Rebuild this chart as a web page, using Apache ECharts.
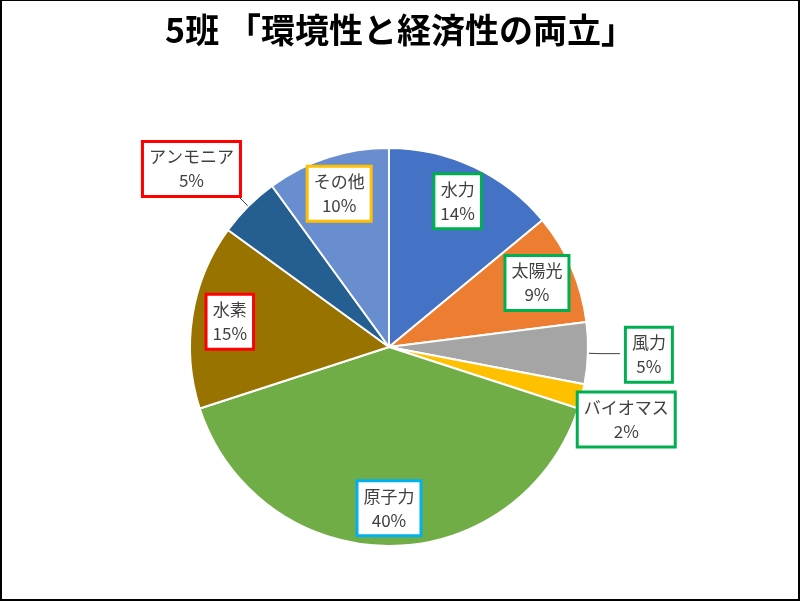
<!DOCTYPE html>
<html><head><meta charset="utf-8">
<script src="https://cdn.jsdelivr.net/npm/echarts@6/dist/echarts.min.js"></script>
<style>
html,body{margin:0;padding:0;background:#fff}
#c{width:800px;height:601px}
#f{position:absolute;left:0;top:0;width:800px;height:601px;box-sizing:border-box;border:2px solid #000;border-top-width:1px;pointer-events:none}
</style>
</head><body><div id="c"></div><div id="f"></div>
<script>
const titleText = '5班 「環境性と経済性の両立」';
const categories = ['水力','太陽光','風力','バイオマス','原子力','水素','アンモニア','その他'];
const values = [14, 9, 5, 2, 40, 15, 5, 10];
const sliceColors = ['#4472C4','#ED7D31','#A5A5A5','#FFC000','#70AD47','#997300','#255E91','#698ED0'];
const boxColors = ['#00B050','#00B050','#00B050','#00B050','#00B0F0','#FF0000','#FF0000','#FFC000'];
const outsideNames = ['風力','バイオマス','アンモニア'];

const outsideCfg = {
  '風力':     {len: 12, len2: 20, dx: 2,  dy: 1,   line: true},
  'バイオマス': {len: 0,  len2: 0,  dx: -8, dy: 23,  line: false},
  'アンモニア': {len: 16, len2: 0,  dx: 7,  dy: -26, line: true}
};

const FONT = '"Noto Sans CJK JP","Noto Sans",sans-serif';
const tokenStyle = {color: '#404040', fontFamily: FONT, fontSize: 17, lineHeight: 24, align: 'center'};
const labelBase = {
  color: '#404040', fontFamily: FONT, fontSize: 17, lineHeight: 24,
  backgroundColor: '#fff', borderWidth: 3, padding: [2, 5],
  formatter: p => '{t|' + p.name + '}\n{t|' + p.value + '%}',
  rich: {t: tokenStyle}
};
const CENTER = [389, 347];
const R = 199;

const mainData = categories.map((n, i) => {
  const out = outsideNames.includes(n);
  const cfg = outsideCfg[n];
  return {
    name: n, value: values[i],
    itemStyle: {color: sliceColors[i]},
    label: out ? Object.assign({}, labelBase, {show: true, position: 'outside', borderColor: boxColors[i], distanceToLabelLine: 5}) : {show: false},
    labelLine: out ? {show: cfg.line, length: cfg.len, length2: cfg.len2} : {show: false}
  };
});

const ringData = categories.map((n, i) => {
  const out = outsideNames.includes(n);
  return {
    name: n, value: values[i],
    itemStyle: {color: 'rgba(0,0,0,0)'},
    label: out ? {show: false} : Object.assign({}, labelBase, {show: true, position: 'inside', borderColor: boxColors[i]})
  };
});

const chart = echarts.init(document.getElementById('c'));
chart.setOption({
  animation: false,
  backgroundColor: '#fff',
  title: {
    text: titleText, left: 'center', top: 8, padding: [5, 0, 5, 12],
    textStyle: {fontFamily: FONT, fontSize: 34, fontWeight: 'bold', color: '#000'}
  },
  series: [
    {
      type: 'pie', center: CENTER, radius: R, startAngle: 90, clockwise: true,
      avoidLabelOverlap: false, silent: true,
      itemStyle: {borderColor: '#fff', borderWidth: 2},
      labelLine: {lineStyle: {color: '#404040', width: 1}},
      labelLayout: p => {
        const c = outsideCfg[categories[p.dataIndex]];
        return c ? {dx: c.dx, dy: c.dy} : {};
      },
      emphasis: {disabled: true},
      data: mainData
    },
    {
      type: 'pie', center: CENTER, radius: [R * 0.59, R], startAngle: 90, clockwise: true,
      avoidLabelOverlap: false, silent: true,
      itemStyle: {borderWidth: 0},
      labelLine: {show: false},
      emphasis: {disabled: true},
      data: ringData
    }
  ]
});
</script>
</body></html>
